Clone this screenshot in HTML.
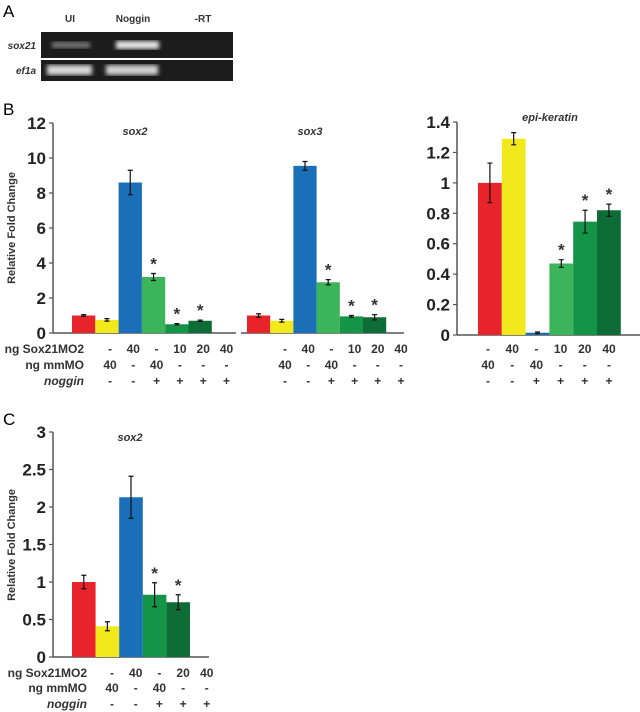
<!DOCTYPE html>
<html><head><meta charset="utf-8"><style>
html,body{margin:0;padding:0;background:#fff;}
svg{display:block;font-family:"Liberation Sans",Arial,sans-serif;}
</style></head><body>
<svg id="fig" width="640" height="712" viewBox="0 0 640 712">
  <g>
    <text x="3" y="17" font-size="17">A</text>
    <text x="70" y="22" font-size="10" font-weight="bold" text-anchor="middle" fill="#333">UI</text>
    <text x="133" y="22" font-size="10" font-weight="bold" text-anchor="middle" fill="#333">Noggin</text>
    <text x="203" y="22" font-size="10" font-weight="bold" text-anchor="middle" fill="#333">-RT</text>
    <text x="36" y="49" font-size="10" font-weight="bold" font-style="italic" text-anchor="end" fill="#333">sox21</text>
    <text x="36" y="74" font-size="10" font-weight="bold" font-style="italic" text-anchor="end" fill="#333">ef1a</text>
    <defs>
      <filter id="blur"><feGaussianBlur stdDeviation="2"/></filter>
    </defs>
    <rect x="41" y="32" width="192" height="26" fill="#1c1c1c"/>
    <rect x="41" y="60" width="192" height="21" fill="#1c1c1c"/>
    <rect x="52" y="42" width="38" height="6" fill="#777" filter="url(#blur)"/>
    <rect x="116" y="41" width="43" height="8" fill="#e6e6e6" filter="url(#blur)"/>
    <rect x="47" y="65" width="45" height="10" fill="#d8d8d8" filter="url(#blur)"/>
    <rect x="106" y="65" width="52" height="10" fill="#d0d0d0" filter="url(#blur)"/>
  </g>
  <text x="3" y="115" font-size="17">B</text>
  <text x="3" y="425" font-size="17">C</text>
  <text transform="translate(15,228) rotate(-90)" font-size="11" font-weight="bold" fill="#333" text-anchor="middle">Relative Fold Change</text>
  <text transform="translate(15,545) rotate(-90)" font-size="11" font-weight="bold" fill="#333" text-anchor="middle">Relative Fold Change</text>
  <g id="charts"></g>
</svg>
<script>
// ---- data ----
const colorsB = ["#e8232a","#f2e91c","#1a6fb8","#3cb55a","#139447","#0e6d36"];
const sox2Values = [1.0, 0.75, 8.6, 3.2, 0.5, 0.7];
const sox2Errors = [0.05, 0.07, 0.7, 0.2, 0.04, 0.04];
const sox2Stars = [false,false,false,true,true,true];
const sox3Values = [1.0, 0.7, 9.55, 2.9, 0.95, 0.9];
const sox3Errors = [0.1, 0.08, 0.25, 0.15, 0.05, 0.15];
const sox3Stars = [false,false,false,true,true,true];
const bTicks = [0,2,4,6,8,10,12];
const epiValues = [1.0, 1.29, 0.015, 0.47, 0.745, 0.82];
const epiErrors = [0.13, 0.04, 0.005, 0.025, 0.075, 0.04];
const epiStars = [false,false,false,true,true,true];
const epiTicks = [0,0.2,0.4,0.6,0.8,1,1.2,1.4];
const epiTickLabels = ["0","0.2","0.4","0.6","0.8","1","1.2","1.4"];
const cValues = [1.0, 0.41, 2.13, 0.83, 0.73];
const cErrors = [0.09, 0.06, 0.28, 0.16, 0.1];
const cStars = [false,false,false,true,true];
const colorsC = ["#e8232a","#f2e91c","#1a6fb8","#139447","#0e6d36"];
const cTicks = [0,0.5,1,1.5,2,2.5,3];
const cTickLabels = ["0","0.5","1","1.5","2","2.5","3"];
const rowSox21B = ["-","40","-","10","20","40"];
const rowMmB = ["40","-","40","-","-","-"];
const rowNogB = ["-","-","+","+","+","+"];
const rowSox21C = ["-","40","-","20","40"];
const rowMmC = ["40","-","40","-","-"];
const rowNogC = ["-","-","+","+","+"];

const NS="http://www.w3.org/2000/svg";
const root=document.getElementById('charts');
function mk(tag,attrs,parent,txt){const e=document.createElementNS(NS,tag);for(const k in attrs)e.setAttribute(k,attrs[k]);if(txt!==undefined)e.textContent=txt;(parent||root).appendChild(e);return e;}

function axis(g,x0,x1,yTop,yZero,max,ticks,labels,name){
  const sy=v=>yZero-(v/max)*(yZero-yTop);
  const ax=mk('line',{x1:x0,y1:yTop,x2:x0,y2:yZero,stroke:'#555','stroke-width':1.5},g);
  
  
  ticks.forEach((t,i)=>{
    const y=sy(t);
    const tl=mk('line',{x1:x0-4,y1:y,x2:x0,y2:y,stroke:'#555','stroke-width':1.2},g);
    
    
    const tx=mk('text',{x:x0-7,y:y+6,'font-size':17,'font-weight':'bold','text-anchor':'end',fill:'#222'},g,labels?labels[i]:String(t));
    
    
  });
  return sy;
}
function bars(g,sy,x0,w,vals,errs,stars,colors,name){
  vals.forEach((v,i)=>{
    const x=x0+i*w, y=sy(v);
    const r=mk('rect',{x:x,y:y,width:w,height:sy(0)-y,fill:colors[i]},g);
    
    
    const cx=x+w/2, yh=sy(v+errs[i]), yl=sy(v-errs[i]);
    const e=mk('path',{d:`M${cx},${yh}V${yl}M${cx-2.5},${yh}H${cx+2.5}M${cx-2.5},${yl}H${cx+2.5}`,stroke:'#111','stroke-width':1.2,fill:'none'},g);
    
    
    if(stars[i]){
      const s=mk('text',{x:cx,y:yh-4,'font-size':17,'font-weight':'bold','text-anchor':'middle',fill:'#333'},g,'*');
      
      
    }
  });
}
function rows(g,xs,rowsArr,ys,name){
  rowsArr.forEach((row,ri)=>{
    row.forEach((t,i)=>{
      const tx=mk('text',{x:xs[0]+i*xs[1],y:ys[ri],'font-size':12,'font-weight':'bold','text-anchor':'middle',fill:'#333'},g,t);
      
      
    });
  });
}
function rowTitles(g,xr,ys,name){
  const titles=["ng Sox21MO2","ng mmMO","noggin"];
  titles.forEach((t,i)=>{
    const tx=mk('text',{x:xr,y:ys[i],'font-size':12,'font-weight':'bold','text-anchor':'end',fill:'#333','font-style':i==2?'italic':'normal'},g,t);
    
    
  });
}
function title(g,x,y,t,name){
  const tx=mk('text',{x:x,y:y,'font-size':11,'font-weight':'bold','font-style':'italic','text-anchor':'middle',fill:'#333'},g,t);
  
  
}

// Chart B left
const gB=mk('g',{});


const syB=axis(gB,53,0,123,333,12,bTicks,null,'chart-b');
const xl1=mk('line',{x1:53,y1:333,x2:236,y2:333,stroke:'#555','stroke-width':1.5},gB);


const xl2=mk('line',{x1:241,y1:333,x2:404,y2:333,stroke:'#555','stroke-width':1.5},gB);


bars(gB,syB,72,23.3,sox2Values,sox2Errors,sox2Stars,colorsB,'sox2');
bars(gB,syB,247,23.2,sox3Values,sox3Errors,sox3Stars,colorsB,'sox3');
title(gB,135,135,'sox2','sox2-title');
title(gB,310,135,'sox3','sox3-title');
rowTitles(gB,84,[353,369,385],'chart-b');
rows(gB,[110,23.3],[rowSox21B,rowMmB,rowNogB],[353,369,385],'sox2');
rows(gB,[285,23.2],[rowSox21B,rowMmB,rowNogB],[353,369,385],'sox3');

// Chart B right
const gE=mk('g',{});


const syE=axis(gE,457,0,122,335,1.4,epiTicks,epiTickLabels,'epi');
const xl3=mk('line',{x1:457,y1:335,x2:640,y2:335,stroke:'#555','stroke-width':1.5},gE);


bars(gE,syE,478,23.8,epiValues,epiErrors,epiStars,colorsB,'epi');
title(gE,550,121,'epi-keratin','epi-keratin-title');
rows(gE,[488,24.2],[rowSox21B,rowMmB,rowNogB],[353,369,385],'epi');

// Chart C
const gC=mk('g',{});


const syC=axis(gC,53,0,432,657,3,cTicks,cTickLabels,'chart-c');
const xl4=mk('line',{x1:53,y1:657,x2:209,y2:657,stroke:'#555','stroke-width':1.5},gC);


bars(gC,syC,72,23.6,cValues,cErrors,cStars,colorsC,'chart-c');
title(gC,130,441,'sox2','chart-c-title');
rowTitles(gC,87,[677,692,708],'chart-c');
rows(gC,[112,23.7],[rowSox21C,rowMmC,rowNogC],[677,692,708],'chart-c');
</script>
</body></html>
